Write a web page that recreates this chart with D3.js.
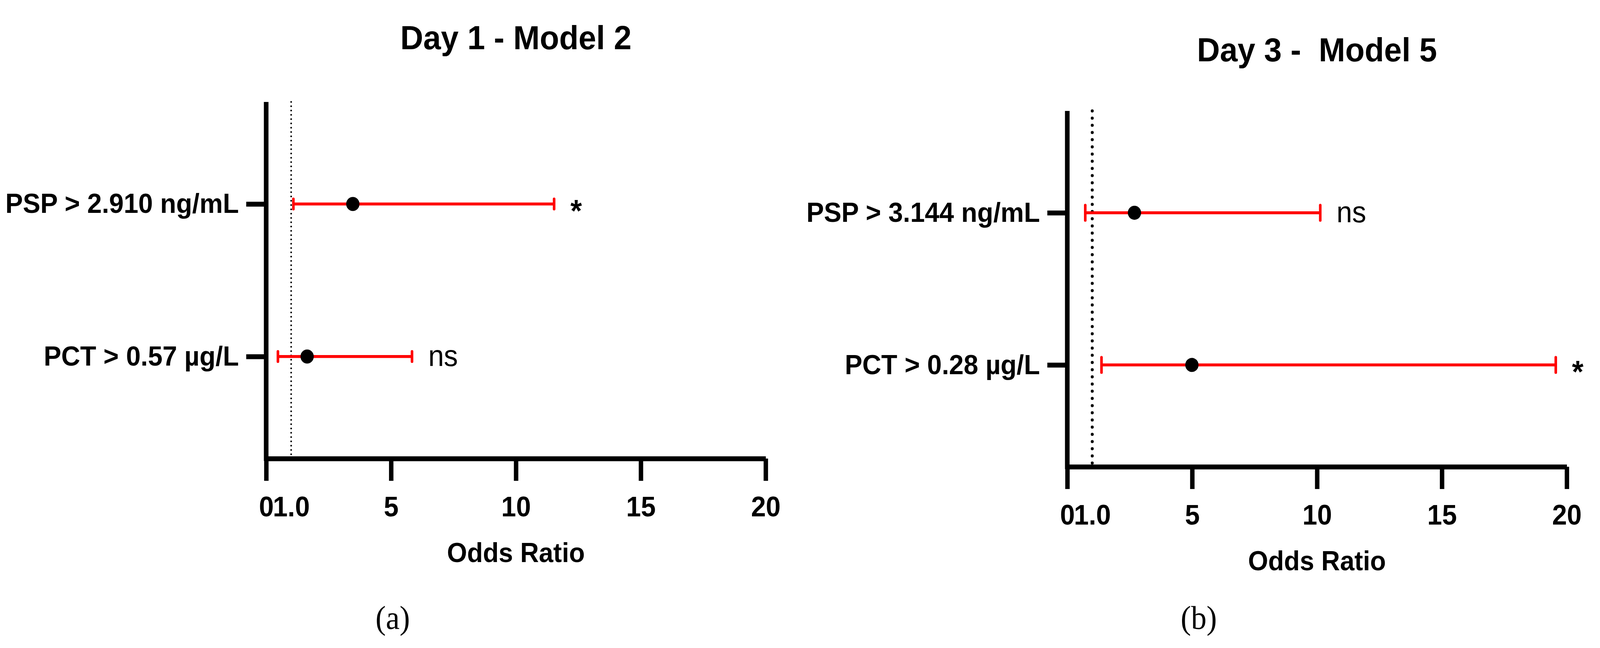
<!DOCTYPE html>
<html>
<head>
<meta charset="utf-8">
<script src="https://cdn.jsdelivr.net/npm/d3@7"></script>
<style>
  html, body { margin: 0; padding: 0; background: #fff; overflow: hidden; }
  svg { display: block; width: 100vw; height: 100vh; }
  text { font-family: "Liberation Sans", Arial, Helvetica, sans-serif; fill: #000; }
</style>
</head>
<body>
<svg id="chart"></svg>
<script>
// panel (a) - Day 1, Model 2
const labelsA = ['PSP > 2.910 ng/mL', 'PCT > 0.57 µg/L'];
const oddsA = [3.47, 1.64];
const lowA = [1.09, 0.47];
const highA = [11.53, 5.84];
const sigA = ['*', 'ns'];

// panel (b) - Day 3, Model 5
const labelsB = ['PSP > 3.144 ng/mL', 'PCT > 0.28 µg/L'];
const oddsB = [2.69, 4.99];
const lowB = [0.72, 1.37];
const highB = [10.13, 19.56];
const sigB = ['ns', '*'];

const xTicks = [0, 1, 5, 10, 15, 20];
const xMax = 20;
const refLine = 1;

const W = 4331, H = 1659;
// the frame is stretched to whatever the window gives, so the whole figure always shows
const svg = d3.select('#chart')
  .attr('viewBox', `0 0 ${W} ${H}`)
  .attr('preserveAspectRatio', 'none');

const panels = [
  { title: 'Day 1 - Model 2', tag: '(a)', labels: labelsA, odds: oddsA, low: lowA, high: highA, sig: sigA,
    left: 720.5, top: 261, bottom: 1174, titleY: 126, tagX: 1063, dot: 4.5, gap: 11, cap: 33 },
  { title: 'Day 3 -\u00a0 Model 5', tag: '(b)', labels: labelsB, odds: oddsB, low: lowB, high: highB, sig: sigB,
    left: 2889, top: 284, bottom: 1195, titleY: 157, tagX: 3245, dot: 8, gap: 18.4, cap: 46 }
];

panels.forEach(p => {
  const g = svg.append('g');
  const rows = p.labels.map((label, i) => ({
    label, or: p.odds[i], lo: p.low[i], hi: p.high[i], sig: p.sig[i]
  }));

  const x = d3.scaleLinear().domain([0, xMax]).range([p.left, p.left + 1352]);
  const y = d3.scalePoint().domain(p.labels).range([p.top, p.bottom]).padding(0.669);

  // title
  g.append('text')
    .attr('x', x(10))
    .attr('y', p.titleY)
    .attr('text-anchor', 'middle')
    .style('font-size', '86px')
    .style('font-weight', 'bold')
    .text(p.title);

  // reference line at OR = 1
  g.append('line')
    .attr('x1', x(refLine)).attr('x2', x(refLine))
    .attr('y1', p.top).attr('y2', p.bottom)
    .attr('stroke', '#000')
    .attr('stroke-width', p.dot)
    .attr('stroke-linecap', 'round')
    .attr('stroke-dasharray', `0,${p.gap}`);

  // x axis
  const xAxis = d3.axisBottom(x)
    .tickValues(xTicks)
    .tickSize(57)
    .tickSizeOuter(0)
    .tickPadding(40)
    .tickFormat(d => d === 1 ? '1.0' : d);

  const gx = g.append('g')
    .attr('transform', `translate(0,${p.bottom})`)
    .call(xAxis);
  gx.select('.domain').attr('stroke-width', 12.5);
  gx.selectAll('.tick line').attr('stroke-width', 12)
    .filter(d => d === 1).remove();
  gx.selectAll('.tick text')
    .style('font-size', '72px')
    .style('font-weight', 'bold')
    .style('font-family', '"Liberation Sans", Arial, sans-serif');

  g.append('text')
    .attr('x', x(10))
    .attr('y', p.bottom + 265)
    .attr('text-anchor', 'middle')
    .style('font-size', '70px')
    .style('font-weight', 'bold')
    .text('Odds Ratio');

  // y axis
  const yAxis = d3.axisLeft(y).tickSize(54).tickSizeOuter(0).tickPadding(20);
  const gy = g.append('g')
    .attr('transform', `translate(${p.left},0)`)
    .call(yAxis);
  gy.select('.domain')
    .attr('stroke-width', 12.5)
    .attr('d', `M0,${p.top}V${p.bottom + 6}`);
  gy.selectAll('.tick line').attr('stroke-width', 12.5);
  gy.selectAll('.tick text')
    .style('font-size', '71px')
    .style('font-weight', 'bold')
    .style('font-family', '"Liberation Sans", Arial, sans-serif');

  // error bars
  const bars = g.selectAll('.bar').data(rows).enter().append('g').attr('class', 'bar');
  bars.append('line')
    .attr('x1', d => x(d.lo)).attr('x2', d => x(d.hi))
    .attr('y1', d => y(d.label)).attr('y2', d => y(d.label))
    .attr('stroke', '#ff0000').attr('stroke-width', 7.5);
  ['lo', 'hi'].forEach(k => {
    bars.append('line')
      .attr('x1', d => x(d[k])).attr('x2', d => x(d[k]))
      .attr('y1', d => y(d.label) - p.cap / 2 + 3.5)
      .attr('y2', d => y(d.label) + p.cap / 2 - 3.5)
      .attr('stroke', '#ff0000').attr('stroke-width', 7)
      .attr('stroke-linecap', 'round');
  });
  bars.append('circle')
    .attr('cx', d => x(d.or))
    .attr('cy', d => y(d.label))
    .attr('r', 18)
    .attr('fill', '#000');

  // significance marks
  bars.append('text')
    .attr('x', d => x(d.hi) + 44)
    .attr('y', d => y(d.label))
    .attr('dy', d => d.sig === '*' ? '0.56em' : '0.32em')
    .style('font-size', d => d.sig === '*' ? '80px' : '76px')
    .style('font-weight', d => d.sig === '*' ? 'bold' : 'normal')
    .text(d => d.sig);

  // panel tag
  g.append('text')
    .attr('x', p.tagX)
    .attr('y', 1610)
    .attr('text-anchor', 'middle')
    .style('font-family', '"Liberation Serif", "Times New Roman", serif')
    .style('font-size', '84px')
    .text(p.tag);
});
</script>
</body>
</html>
